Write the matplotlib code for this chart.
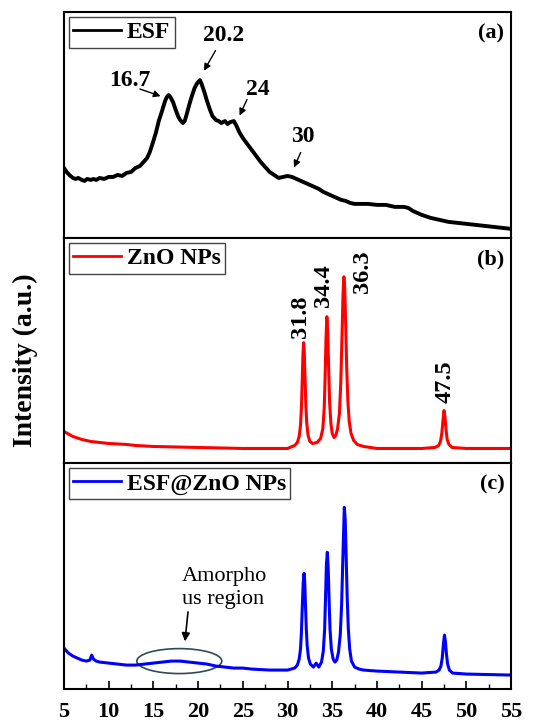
import numpy as np
import matplotlib.pyplot as plt
from matplotlib.patches import Ellipse

plt.rcParams['font.family'] = ['Liberation Serif', 'DejaVu Serif']
plt.rcParams['font.weight'] = 'bold'

# ---- dados (2theta, intensidade u.a.) ----
esf_x = [5, 5.3, 5.6, 6, 6.3, 6.6, 7, 7.3, 7.6, 8, 8.3, 8.6, 9, 9.5, 10, 10.5, 11, 11.5, 12, 12.5,
         13, 13.5, 14, 14.3, 14.6, 15, 15.3, 15.6, 16, 16.3, 16.5, 16.7, 16.9, 17.2, 17.5, 17.8,
         18, 18.3, 18.5, 18.7, 19, 19.3, 19.6, 19.9, 20.2, 20.4, 20.7, 21, 21.3, 21.6, 22, 22.3,
         22.6, 23, 23.3, 23.6, 24, 24.3, 24.6, 25, 25.5, 26, 26.5, 27, 27.5, 28, 28.5, 29, 29.5,
         30, 30.5, 31, 31.5, 32, 32.5, 33, 33.5, 34, 34.5, 35, 35.5, 36, 36.5, 37, 37.5, 38, 39,
         40, 41, 42, 43, 43.5, 44, 45, 46, 47, 48, 49, 50, 51, 52, 53, 54, 55]
esf_y = [70, 66, 63, 60, 59, 60, 58, 57, 59, 58, 59, 58, 60, 59, 61, 61, 63, 62, 65, 66,
         70, 72, 77, 80, 86, 97, 106, 117, 128, 137, 141, 143, 141, 136, 128, 121,
         118, 115, 117, 123, 133, 142, 150, 155, 158, 154, 146, 137, 129, 122, 118, 117,
         115, 117, 114, 116, 117, 112, 106, 100, 94, 88, 82, 76, 71, 66, 63, 60, 61,
         62, 61, 59, 57, 55, 53, 51, 49, 46, 44, 42, 40, 38, 37, 35, 34, 34, 34,
         33, 33, 31, 31, 30, 27, 23, 20, 18, 16, 15, 14, 13, 12, 11, 10, 9]

zno_x = [5, 6, 7, 8, 9, 10, 12, 13, 15, 20, 25, 30, 30.8, 31.1, 31.3, 31.45, 31.55, 31.65, 31.73,
         31.8, 31.87, 31.95, 32.05, 32.15, 32.3, 32.5, 32.8, 33.3, 33.7, 33.95, 34.1, 34.2, 34.3,
         34.4, 34.5, 34.6, 34.7, 34.85, 35.0, 35.2, 35.4, 35.6, 35.8, 35.95, 36.1, 36.2, 36.3,
         36.4, 36.5, 36.62, 36.75, 36.9, 37.1, 37.4, 37.8, 38.5, 40, 45, 46.5, 46.9, 47.1, 47.25,
         47.38, 47.5, 47.6, 47.72, 47.85, 48.05, 48.4, 50, 55]
zno_y = [32, 27, 24, 22, 21, 20, 19, 18, 17, 16, 15, 15, 18, 21, 27, 38, 55, 85, 110,
         121, 112, 88, 58, 40, 28, 22, 20, 21, 25, 35, 55, 85, 125,
         147, 130, 95, 62, 40, 30, 26, 28, 35, 50, 80, 130, 168, 187,
         175, 140, 95, 62, 42, 30, 23, 19, 17, 15, 15, 16, 18, 22, 30,
         43, 53, 47, 34, 24, 19, 16, 15, 15]

comp_x = [5, 5.5, 6, 6.5, 7, 7.5, 7.9, 8.1, 8.3, 8.6, 9, 10, 11, 12, 13, 14, 15, 16, 17, 18, 19,
          20, 21, 22, 23, 24, 25, 26, 28, 30, 30.8, 31.1, 31.3, 31.45, 31.55, 31.65, 31.75, 31.85,
          31.92, 32.0, 32.1, 32.2, 32.35, 32.55, 32.9, 33.2, 33.5, 33.8, 34.0, 34.15, 34.25,
          34.35, 34.45, 34.55, 34.65, 34.75, 34.9, 35.1, 35.3, 35.5, 35.7, 35.9, 36.05, 36.2,
          36.35, 36.45, 36.55, 36.67, 36.8, 36.95, 37.15, 37.5, 38, 38.5, 40, 45, 46.6, 46.95,
          47.15, 47.3, 47.43, 47.55, 47.65, 47.77, 47.9, 48.1, 48.45, 50, 55]
comp_y = [41, 36, 33, 31, 29, 28, 29, 34, 30, 28, 27, 26, 25, 24, 24, 25, 26, 27, 28, 28, 27,
          26, 25, 23, 22, 21, 21, 20, 19, 19, 21, 24, 30, 40, 56, 82, 106, 116,
          108, 86, 60, 43, 31, 25, 22, 26, 22, 27, 38, 60, 92,
          125, 137, 120, 88, 60, 40, 30, 27, 29, 37, 55, 85, 135,
          182, 170, 135, 92, 60, 40, 28, 22, 20, 19, 18, 16, 17, 19,
          23, 31, 45, 54, 48, 35, 25, 19, 16, 15, 14]

picos_esf = ['16.7', '20.2', '24', '30']
picos_zno = ['31.8', '34.4', '36.3', '47.5']

fig, axs = plt.subplots(3, 1, figsize=(5.42, 7.2), dpi=100, sharex=True)
fig.subplots_adjust(left=0.118, right=0.943, top=0.983, bottom=0.043, hspace=0)

series = [(esf_x, esf_y, 'black', 'ESF', '(a)'),
          (zno_x, zno_y, 'red', 'ZnO NPs', '(b)'),
          (comp_x, comp_y, 'blue', 'ESF@ZnO NPs', '(c)')]

for ax, (x, y, cor, nome, letra) in zip(axs, series):
    lw = 2.8 if cor == 'black' else 2.2
    ax.plot(x, y, color=cor, lw=lw, label=nome)
    ax.set_ylim(0, 226)
    ax.set_xlim(5, 55)
    ax.set_yticks([])
    for s in ax.spines.values():
        s.set_linewidth(1.5)
    leg = ax.legend(loc='upper left', frameon=True, fancybox=False, framealpha=1,
                    edgecolor='#444444', handlelength=2.0, handletextpad=0.25,
                    borderaxespad=0.2, borderpad=0.2,
                    prop={'family': 'Liberation Serif', 'weight': 'bold', 'size': 17})
    leg.get_frame().set_linewidth(1.0)
    for h in leg.get_lines():
        h.set_linewidth(2.0)
    ax.text(0.985, 0.905, letra, transform=ax.transAxes, ha='right', va='center',
            fontsize=16, fontweight='bold')
    ax.tick_params(axis='x', which='both', direction='in', bottom=False, top=False,
                   labelbottom=False)

# anotacoes painel (a)
seta = dict(arrowstyle='-|>', color='black', lw=1.0, mutation_scale=10)
pos_esf = [((12.4, 158), (13.2, 150), (16.1, 141)),
           ((22.8, 203), (22.1, 190), (20.5, 165)),
           ((26.7, 149), (25.6, 141), (24.5, 120)),
           ((31.7, 102), (31.6, 88), (30.6, 68))]
for lab, (txt, cauda, ponta) in zip(picos_esf, pos_esf):
    axs[0].text(txt[0], txt[1], lab, ha='center', va='center', fontsize=17, fontweight='bold')
    axs[0].annotate('', xy=ponta, xytext=cauda, arrowprops=seta)

# anotacoes painel (b)
pos_zno = [(31.4, 147), (34.0, 178), (38.4, 192), (47.6, 82)]
for lab, (px, py) in zip(picos_zno, pos_zno):
    axs[1].text(px, py, lab, rotation=90, ha='center', va='center', fontsize=17.5,
                fontweight='bold')

# painel (c): regiao amorfa
axs[2].add_patch(Ellipse((17.9, 28), 9.5, 25, fill=False, edgecolor='#2e4a5a', lw=1.2))
axs[2].text(18.2, 122, 'Amorpho\nus region', ha='left', va='top', fontsize=16,
            fontweight='normal', linespacing=1.3)
axs[2].annotate('', xy=(18.5, 45), xytext=(18.9, 80),
                arrowprops=dict(arrowstyle='-|>', color='black', lw=1.2, mutation_scale=12))

axs[2].set_xticks(np.arange(5, 56, 5))
axs[2].set_xticks(np.arange(7.5, 55, 5), minor=True)
axs[2].tick_params(axis='x', which='major', direction='in', bottom=True, labelbottom=True,
                   length=6, width=1.2, labelsize=16, pad=9)
axs[2].tick_params(axis='x', which='minor', direction='in', bottom=True, length=3.5, width=1.0)
for t in axs[2].get_xticklabels():
    t.set_fontweight('bold')

fig.text(25 / 542, 1 - 360 / 720, 'Intensity (a.u.)', rotation=90, ha='center', va='center',
         fontsize=20, fontweight='bold')

plt.savefig('out.png', dpi=100)
plt.close()
